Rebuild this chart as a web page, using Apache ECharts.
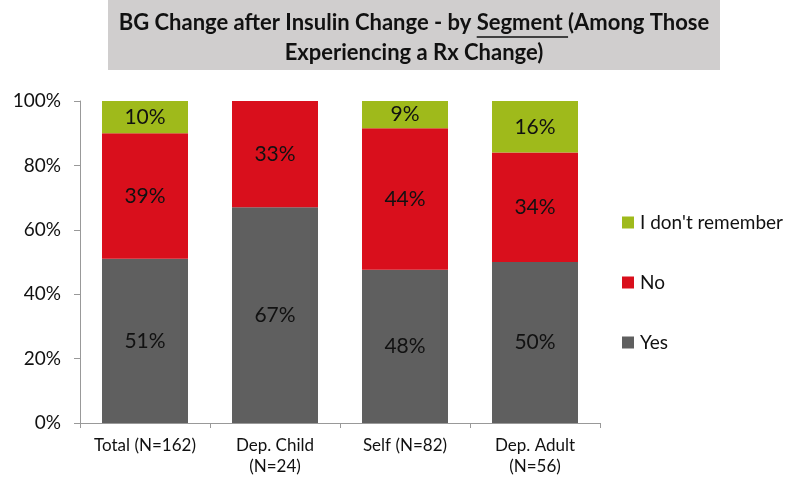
<!DOCTYPE html>
<html>
<head>
<meta charset="utf-8">
<script src="https://cdn.jsdelivr.net/npm/echarts@6/dist/echarts.min.js"></script>
<style>
  html, body { margin: 0; padding: 0; background: #fff; }
  #main { width: 790px; height: 479px; }
</style>
</head>
<body>
<div id="main"></div>
<script>
var categories = ['Total (N=162)', 'Dep. Child\n(N=24)', 'Self (N=82)', 'Dep. Adult\n(N=56)'];
var yesValues = [51, 67, 47.6, 50];
var noValues = [39, 33, 43.9, 34];
var dontRememberValues = [10, 0, 8.5, 16];
var yTicks = [0, 20, 40, 60, 80, 100];

var FONT = 'Lato';
var titleLine1 = 'BG Change after Insulin Change - by Segment (Among Those';
var titleLine2 = 'Experiencing a Rx Change)';
var titleFont = 'bold 22px ' + FONT;

var chart = echarts.init(document.getElementById('main'));

// measure where "Segment " sits in line 1 so it can be underlined
var ctx = document.createElement('canvas').getContext('2d');
ctx.font = titleFont;
var titleCx = 414;
var line1W = ctx.measureText(titleLine1).width;
var preW = ctx.measureText('BG Change after Insulin Change - by ').width;
var segW = ctx.measureText('Segment ').width;
var ulX1 = titleCx - line1W / 2 + preW;
var ulX2 = ulX1 + segW;

function pctLabel(p) {
    return p.value > 0 ? Math.round(p.value) + '%' : '';
}

function barSeries(name, data, color) {
    return {
        name: name,
        type: 'bar',
        stack: 'total',
        data: data,
        barWidth: 86,
        itemStyle: { color: color },
        label: {
            show: true,
            position: 'inside',
            formatter: pctLabel,
            color: '#111',
            fontSize: 21,
            fontFamily: FONT
        }
    };
}

var option = {
    animation: false,
    graphic: [
        { type: 'rect', shape: { x: 108, y: 0, width: 612, height: 70 }, style: { fill: '#d0cece' } },
        { type: 'text', x: titleCx, y: 23, style: { text: titleLine1, font: titleFont, fill: '#111', align: 'center', verticalAlign: 'middle' } },
        { type: 'text', x: titleCx, y: 53, style: { text: titleLine2, font: titleFont, fill: '#111', align: 'center', verticalAlign: 'middle' } },
        { type: 'line', shape: { x1: ulX1, y1: 37, x2: ulX2, y2: 37 }, style: { stroke: '#111', lineWidth: 1.5 } }
    ],
    legend: {
        orient: 'vertical',
        left: 617,
        top: 208,
        itemGap: 41,
        itemWidth: 12,
        itemHeight: 12,
        icon: 'rect',
        data: ["I don't remember", 'No', 'Yes'],
        textStyle: { fontFamily: FONT, fontSize: 19, color: '#111', padding: [0, 0, 0, 1] }
    },
    grid: {
        left: 80,
        right: 190,
        top: 101,
        bottom: 56
    },
    xAxis: {
        type: 'category',
        data: categories,
        axisLine: { lineStyle: { color: '#999' } },
        axisTick: { show: true, length: 5, lineStyle: { color: '#999' } },
        axisLabel: { fontFamily: FONT, fontSize: 17, color: '#111', margin: 12, lineHeight: 21, interval: 0 }
    },
    yAxis: {
        type: 'value',
        min: 0,
        max: 100,
        interval: 20,
        axisLine: { show: true, lineStyle: { color: '#999' } },
        axisTick: { show: true, length: 6, lineStyle: { color: '#999' } },
        splitLine: { show: false },
        axisLabel: {
            fontFamily: FONT, fontSize: 19, color: '#111', margin: 19,
            formatter: function (v) { return yTicks.indexOf(v) >= 0 ? v + '%' : ''; }
        }
    },
    series: [
        barSeries('Yes', yesValues, '#5f5f5f'),
        barSeries('No', noValues, '#d90f1c'),
        barSeries("I don't remember", dontRememberValues, '#9fba1b')
    ]
};

chart.setOption(option);
</script>
</body>
</html>
